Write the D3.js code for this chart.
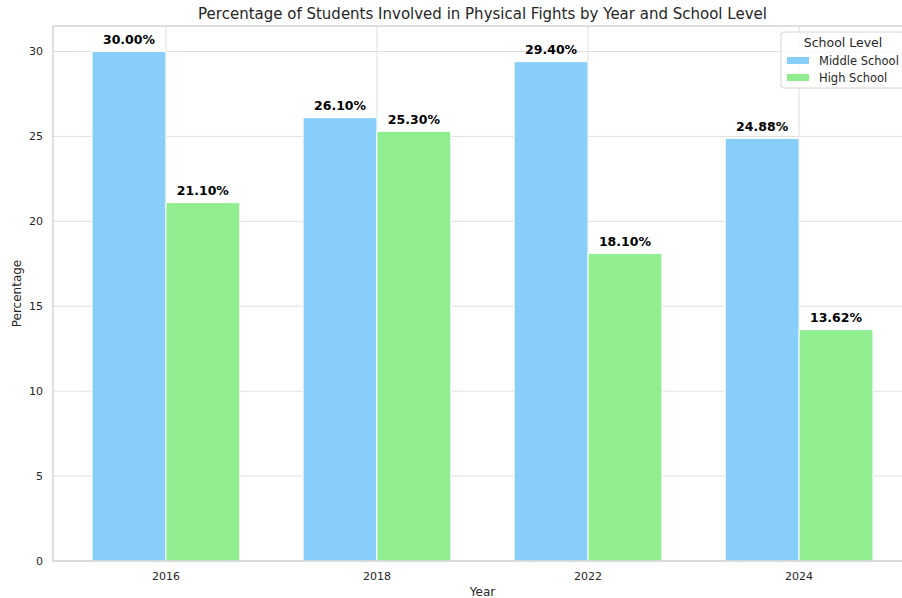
<!DOCTYPE html>
<html>
<head>
<meta charset="utf-8">
<script src="https://cdn.jsdelivr.net/npm/d3@7"></script>
<style>
  body { margin: 0; background: #fff; }
  text { font-family: "DejaVu Sans", sans-serif; fill: #262626; }
</style>
</head>
<body>
<svg id="chart" width="902" height="598"></svg>
<script>
const years = ["2016", "2018", "2022", "2024"];
const seriesNames = ["Middle School", "High School"];
const middleSchool = [30.0, 26.1, 29.4, 24.88];
const highSchool = [21.1, 25.3, 18.1, 13.62];
const yTicks = [0, 5, 10, 15, 20, 25, 30];
const colors = ["#87cefa", "#90ee90"];

const margin = { top: 26, right: -10, bottom: 37, left: 53 };
const W = 902, H = 598;
const width = W - margin.left - margin.right;
const height = H - margin.top - margin.bottom;

const svg = d3.select("#chart");
const g = svg.append("g").attr("transform", `translate(${margin.left},${margin.top})`);

// matplotlib-style x: positions 0..3, bars of 0.35 either side, 5% margins
const x = d3.scaleLinear().domain([-0.535, 3.535]).range([0, width]);
const y = d3.scaleLinear().domain([0, 31.5]).range([height, 0]);
const barW = 0.35;

// grid
g.selectAll(".hgrid").data(yTicks).enter().append("line")
  .attr("x1", 0).attr("x2", width)
  .attr("y1", d => y(d)).attr("y2", d => y(d))
  .attr("stroke", "#e0e0e0").attr("stroke-width", 1);
g.selectAll(".vgrid").data(years).enter().append("line")
  .attr("x1", (d, i) => x(i)).attr("x2", (d, i) => x(i))
  .attr("y1", 0).attr("y2", height)
  .attr("stroke", "#e0e0e0").attr("stroke-width", 1);

// bars
const data = [middleSchool, highSchool];
data.forEach((vals, s) => {
  const off = s === 0 ? -barW / 2 : barW / 2;
  g.selectAll(".bar" + s).data(vals).enter().append("rect")
    .attr("x", (d, i) => x(i + off - barW / 2))
    .attr("width", x(barW) - x(0))
    .attr("y", d => y(d))
    .attr("height", d => y(0) - y(d))
    .attr("fill", colors[s])
    .attr("stroke", "#fff").attr("stroke-width", 1);

  g.selectAll(".lbl" + s).data(vals).enter().append("text")
    .attr("x", (d, i) => x(i + off))
    .attr("y", d => y(d) - 7.5)
    .attr("text-anchor", "middle")
    .style("font-size", "12.5px").style("font-weight", "bold").style("fill", "#000")
    .text(d => d.toFixed(2) + "%");
});

// spines
g.append("rect").attr("x", 0).attr("y", 0).attr("width", width).attr("height", height)
  .attr("fill", "none").attr("stroke", "#cccccc").attr("stroke-width", 1.25);

// tick labels
g.selectAll(".ytick").data(yTicks).enter().append("text")
  .attr("x", -10).attr("y", d => y(d)).attr("dy", "0.35em")
  .attr("text-anchor", "end").style("font-size", "11px")
  .text(d => d);
g.selectAll(".xtick").data(years).enter().append("text")
  .attr("x", (d, i) => x(i)).attr("y", height + 19)
  .attr("text-anchor", "middle").style("font-size", "11px")
  .text(d => d);

// axis labels + title
g.append("text").attr("x", (x(-0.535) + x(3.535)) / 2).attr("y", height + 35)
  .attr("text-anchor", "middle").style("font-size", "12px").text("Year");
g.append("text").attr("transform", "rotate(-90)")
  .attr("x", -height / 2).attr("y", -32)
  .attr("text-anchor", "middle").style("font-size", "12px").text("Percentage");
svg.append("text").attr("x", margin.left + width / 2).attr("y", 19)
  .attr("text-anchor", "middle").style("font-size", "15px")
  .text("Percentage of Students Involved in Physical Fights by Year and School Level");

// legend
const lg = svg.append("g").attr("transform", "translate(781,32)");
lg.append("rect").attr("x", 0).attr("y", 0).attr("width", 128).attr("height", 56)
  .attr("rx", 3).attr("fill", "#fff").attr("fill-opacity", 0.8)
  .attr("stroke", "#d6d6d6");
lg.append("text").attr("x", 62).attr("y", 15).attr("text-anchor", "middle")
  .style("font-size", "12.5px").text("School Level");
seriesNames.forEach((name, i) => {
  lg.append("rect").attr("x", 6).attr("y", 25 + i * 17).attr("width", 22).attr("height", 7)
    .attr("fill", colors[i]);
  lg.append("text").attr("x", 38).attr("y", 29 + i * 17).attr("dy", "0.35em")
    .style("font-size", "11.5px").text(name);
});
</script>
</body>
</html>
